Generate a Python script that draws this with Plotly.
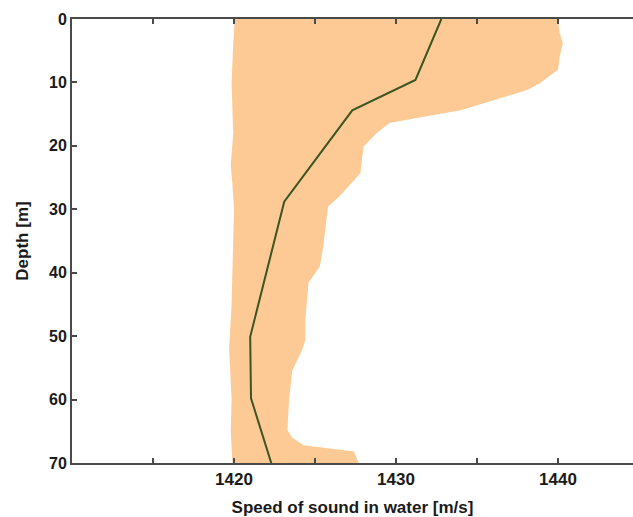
import plotly.graph_objects as go

# Mean sound-speed profile
depth_mean = [0, 9.6, 14.4, 28.8, 50.1, 59.8, 70]
speed_mean = [1432.8, 1431.2, 1427.3, 1423.1, 1421.0, 1421.05, 1422.3]

# Envelope (range) - right boundary, top to bottom
depth_right = [0, 2.2, 3.8, 6, 8, 10.1, 11.2, 12.8, 14.4, 15.4, 16.4, 18, 20.1, 24.3,
               25.4, 28, 29.6, 36, 39, 41.6, 47.5, 50.6, 52.2, 55.4, 60, 64.8, 66,
               67.2, 68.2, 70]
speed_right = [1440.0, 1440.1, 1440.3, 1440.1, 1440.0, 1438.9, 1438.1, 1436.0, 1434.0,
               1431.7, 1429.6, 1428.8, 1428.0, 1427.8, 1427.4, 1426.5, 1425.8, 1425.5,
               1425.3, 1424.6, 1424.4, 1424.4, 1424.2, 1423.6, 1423.4, 1423.3, 1423.6,
               1424.3, 1427.4, 1427.7]
# left boundary, bottom to top
depth_left = [70, 65, 60, 52, 45, 38, 30, 26, 23, 18, 10, 4, 0]
speed_left = [1419.9, 1419.8, 1419.85, 1419.7, 1419.85, 1419.9, 1420.0, 1419.9,
              1419.8, 1419.95, 1419.85, 1419.95, 1420.05]

x_tickvals = [1410, 1415, 1420, 1425, 1430, 1435, 1440]
x_ticktext = ["", "", "1420", "", "1430", "", "1440"]
y_tickvals = [0, 10, 20, 30, 40, 50, 60, 70]

FONT = "Arial, Liberation Sans, sans-serif"
TXT = "#1a1a1a"
AX = "#4a4a4a"

fig = go.Figure()
fig.add_trace(go.Scatter(
    x=speed_right + speed_left, y=depth_right + depth_left,
    mode="lines", fill="toself", fillcolor="#fdca95",
    line=dict(width=0, color="#fdca95"), hoverinfo="skip", showlegend=False))
fig.add_trace(go.Scatter(
    x=speed_mean, y=depth_mean, mode="lines",
    line=dict(color="#3b5520", width=2), showlegend=False))

fig.update_layout(
    width=633, height=517,
    margin=dict(l=72, r=0, t=19, b=54, autoexpand=False),
    paper_bgcolor="white", plot_bgcolor="white",
    font=dict(family=FONT, color=TXT),
)
fig.update_xaxes(
    range=[1410, 1444.63], tickvals=x_tickvals, ticktext=x_ticktext,
    ticks="inside", ticklen=5, tickwidth=1.5, tickcolor=AX,
    showline=True, linecolor=AX, linewidth=2, mirror="ticks",
    showgrid=False, zeroline=False, automargin=False,
    tickfont=dict(family=FONT, size=17, color=TXT, weight="bold"),
    title=dict(text="<b>Speed of sound in water [m/s]</b>", font=dict(size=17, color=TXT), standoff=14),
)
fig.update_yaxes(
    range=[70, 0], tickvals=y_tickvals,
    ticks="inside", ticklen=5, tickwidth=1.5, tickcolor=AX,
    showline=True, linecolor=AX, linewidth=2, mirror=False,
    showgrid=False, zeroline=False, automargin=False,
    tickfont=dict(family=FONT, size=16, color=TXT, weight="bold"),
    title=dict(text="<b>Depth [m]</b>", font=dict(size=17, color=TXT), standoff=16),
)
fig.write_html("out.html", config={"displayModeBar": False},
               post_script="document.body.style.margin='0';")
